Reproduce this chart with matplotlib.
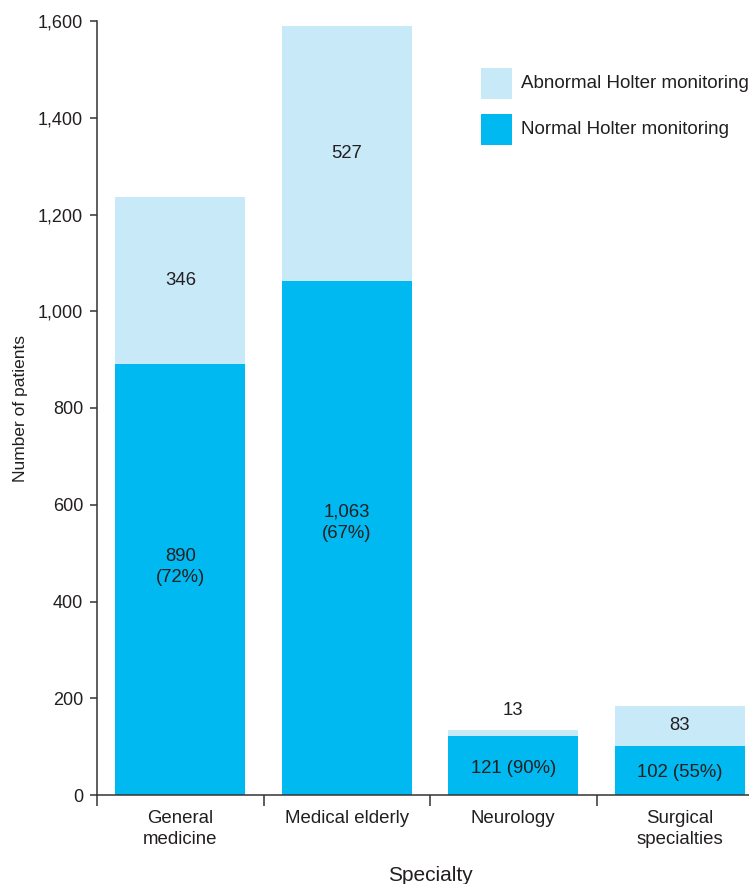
import numpy as np
import matplotlib
matplotlib.use('Agg')
import matplotlib.pyplot as plt
from matplotlib.patches import Rectangle
from matplotlib.ticker import FuncFormatter

plt.rcParams['font.family'] = ['Liberation Sans', 'DejaVu Sans']

specialties = ['General\nmedicine', 'Medical elderly', 'Neurology', 'Surgical\nspecialties']
normal = [890, 1063, 121, 102]
abnormal = [346, 527, 13, 83]
yticks = [0, 200, 400, 600, 800, 1000, 1200, 1400, 1600]

col_normal = '#00B9F1'
col_abnormal = '#C7E9F8'
txt = '#231F20'
spine = '#333333'

W, H = 749, 884
fig = plt.figure(figsize=(W / 100, H / 100), dpi=100)
ax = fig.add_axes([97 / W, 89 / H, 666 / W, 774 / H])

x = np.arange(len(specialties))
w = 0.78
ax.bar(x, normal, width=w, color=col_normal, zorder=2)
ax.bar(x, abnormal, width=w, bottom=normal, color=col_abnormal, zorder=2)

# value labels
for i, (n, a) in enumerate(zip(normal, abnormal)):
    pct = round(100 * n / (n + a))
    if n > 300:
        ax.text(i, n * 0.53, f'{n:,}\n({pct}%)', ha='center', va='center',
                fontsize=13.3, color=txt, linespacing=1.35, zorder=3)
    else:
        ax.text(i, n * 0.45, f'{n} ({pct}%)', ha='center', va='center',
                fontsize=13.3, color=txt, zorder=3)
    if a > 40:
        ax.text(i, n + a / 2, f'{a:,}', ha='center', va='center',
                fontsize=13.3, color=txt, zorder=3)
    else:
        ax.annotate(f'{a:,}', (i, n + a), xytext=(0, 14), textcoords='offset points',
                    ha='center', va='center', fontsize=13.3, color=txt)

ax.set_xlim(-0.5, 3.5)
ax.set_ylim(0, 1600)
ax.set_yticks(yticks)
ax.yaxis.set_major_formatter(FuncFormatter(lambda v, p: f'{int(v):,}'))

# category boundaries as ticks, names on minor ticks
ax.set_xticks(np.arange(-0.5, 4, 1.0))
ax.set_xticklabels([])
ax.set_xticks(x, minor=True)
ax.set_xticklabels(specialties, minor=True, linespacing=1.3)
ax.tick_params(axis='x', which='major', length=8, width=1.1, color=spine, direction='out')
ax.tick_params(axis='x', which='minor', length=0, pad=11, labelsize=13.4, labelcolor=txt)
ax.tick_params(axis='y', length=5, width=1.1, color=spine, pad=5, labelsize=13, labelcolor=txt)

for s in ['top', 'right']:
    ax.spines[s].set_visible(False)
for s in ['left', 'bottom']:
    ax.spines[s].set_color(spine)
    ax.spines[s].set_linewidth(1.1)

ax.set_ylabel('Number of patients', fontsize=12.5, color=txt, labelpad=7)
ax.set_xlabel('Specialty', fontsize=15, color=txt, labelpad=13)

# legend: colour squares with text, placed in figure pixels
legend_items = [('Abnormal Holter monitoring', col_abnormal),
                ('Normal Holter monitoring', col_normal)]
for k, (lab, c) in enumerate(legend_items):
    top = 68 + 46 * k
    fig.add_artist(Rectangle((481 / W, 1 - (top + 31) / H), 31 / W, 31 / H,
                             transform=fig.transFigure, color=c, lw=0))
    fig.text(521 / W, 1 - (top + 15.5) / H, lab, ha='left', va='center',
             fontsize=13.5, color=txt)

fig.savefig('out.png', dpi=100)
